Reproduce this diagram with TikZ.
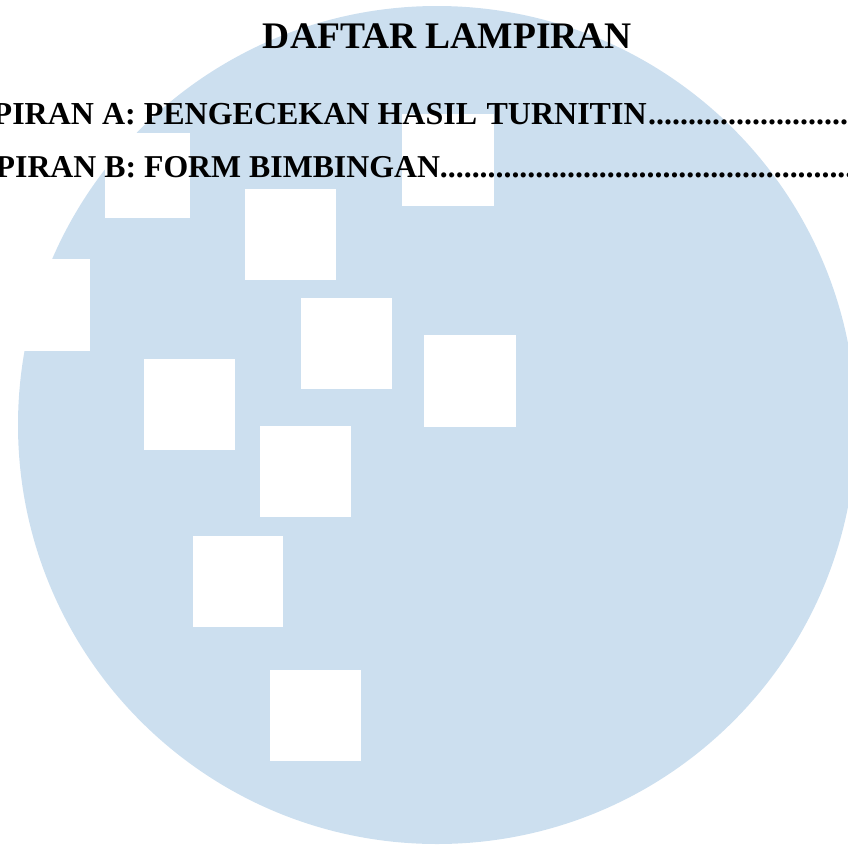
\documentclass[tikz,border=0pt]{standalone}
\usepackage{fontspec}
\setmainfont{Liberation Serif}
\definecolor{disc}{HTML}{CCDFEF}
\tikzset{hole/.style={fill=white,draw=none},
  linea/.style={anchor=base west,inner sep=0pt,font=\fontsize{32pt}{32pt}\selectfont\bfseries},
  lineb/.style={anchor=base west,inner sep=0pt,font=\fontsize{31.8pt}{31.8pt}\selectfont\bfseries},
  title/.style={anchor=base,inner sep=0pt,font=\fontsize{37.5pt}{37.5pt}\selectfont\bfseries}}
\begin{document}
\begin{tikzpicture}[x=1pt,y=-1pt]
\useasboundingbox (0,0) rectangle (848,846);
\clip (0,0) rectangle (848,846);
\fill[disc] (437,425) circle[radius=419];
\foreach \x/\y/\w/\h in {105/133/84.5/85, 402/114/91.5/91.5, 245/189/90.5/91, 0/259/90/92, 301/298/91/91, 424/335/92/92, 144/359/91/91, 260/426/91/91, 193/536/90/91, 270/670/91/91}
  \fill[hole] (\x,\y) rectangle +(\w,\h);
\node[title] (t) at (447.5,48) {DAFTAR LAMPIRAN};
\node[linea] (a) at (-7.5,124) {PIRAN A: PENGECEKAN HASIL\hspace{1.5pt} TURNITIN\hspace{1.5pt}..........................};
\node[lineb] (b) at (-4.5,177) {PIRAN B: FORM BIMBINGAN....................................................};
\end{tikzpicture}
\end{document}
